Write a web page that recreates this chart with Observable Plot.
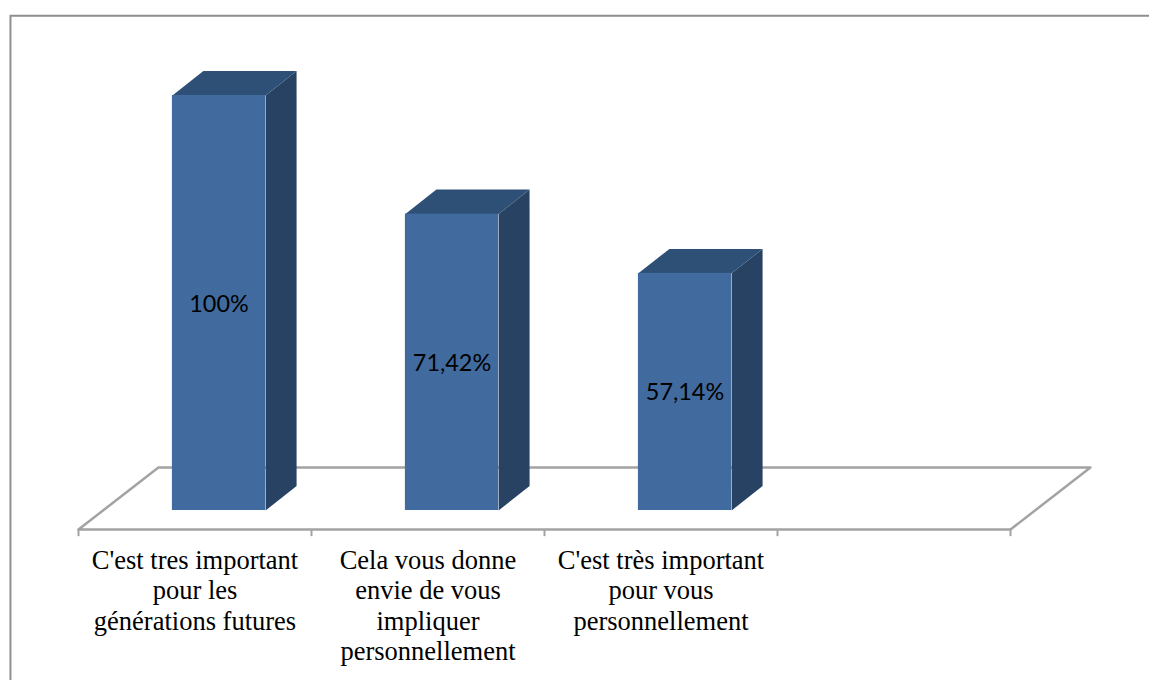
<!DOCTYPE html>
<html>
<head>
<meta charset="utf-8">
<style>html,body{margin:0;padding:0;background:#fff;overflow:hidden}svg{display:block}</style>
<script src="https://cdn.jsdelivr.net/npm/d3@7"></script>
<script src="https://cdn.jsdelivr.net/npm/@observablehq/plot@0.6"></script>
</head>
<body>
<script>
const categories = ["C'est tres important\npour les\ngénérations futures", "Cela vous donne\nenvie de vous\nimpliquer\npersonnellement", "C'est très important\npour vous\npersonnellement"];
const values = [100, 71.42, 57.14];
const valueLabels = ["100%", "71,42%", "57,14%"];
const slots = [0, 1, 2];
const tickPositions = [0, 1, 2, 3, 4];

// 3D projection of the chart, in scale units
const barStart = 0.403, barWidth = 0.4;
const depthX = 0.133, depthY = 5.9;
const floorFront = -4.58, floorBack = 10.36, floorShift = 0.343;
const tickBottom = -6.3;
const frame = {left: -0.292, top: 119.2, right: 4.7, bottom: -45};

const bars = values.map((v, i) => ({i, v, x1: slots[i] + barStart, x2: slots[i] + barStart + barWidth}));
const topFaces = bars.flatMap(b => [[b.x1, b.v], [b.x1 + depthX, b.v + depthY], [b.x2 + depthX, b.v + depthY], [b.x2, b.v]].map(([x, y]) => ({id: b.i, x, y})));
const sideFaces = bars.flatMap(b => [[b.x2, 0], [b.x2 + depthX, depthY], [b.x2 + depthX, b.v + depthY], [b.x2, b.v]].map(([x, y]) => ({id: b.i, x, y})));
const floorEdges = [[0, floorFront], [floorShift, floorBack], [4 + floorShift, floorBack], [4, floorFront], [0, floorFront]].map(([x, y]) => ({x, y}));
const frameLine = [[frame.left, frame.bottom], [frame.left, frame.top], [frame.right, frame.top]].map(([x, y]) => ({x, y}));

const chart = Plot.plot({
  width: 1149, height: 680,
  marginTop: 0, marginRight: 0, marginBottom: 0, marginLeft: 0,
  x: {domain: [0, 4], range: [78, 1010], axis: null},
  y: {domain: [0, 100], range: [510, 95], axis: null},
  marks: [
    Plot.line(frameLine, {x: "x", y: "y", stroke: "#8f8f8f", strokeWidth: 2}),
    Plot.line(floorEdges, {x: "x", y: "y", stroke: "#a3a3a3", strokeWidth: 2.5}),
    Plot.ruleX(tickPositions, {x: d => d, y1: floorFront, y2: tickBottom, stroke: "#a3a3a3", strokeWidth: 2}),
    Plot.line(sideFaces, {x: "x", y: "y", z: "id", fill: "#284263", stroke: null}),
    Plot.line(topFaces, {x: "x", y: "y", z: "id", fill: "#2f5076", stroke: null}),
    Plot.rect(bars, {x1: "x1", x2: "x2", y1: 0, y2: "v", fill: "#416a9e"}),
    Plot.text(bars, {
      x: d => (d.x1 + d.x2) / 2, y: d => d.v / 2,
      text: d => valueLabels[d.i], dy: 1,
      fontFamily: "Lato", fontSize: 23.4, fill: "#000"
    }),
    Plot.text(categories, {
      x: (d, i) => slots[i] + 0.5, y: -8.95,
      text: d => d, lineAnchor: "top", lineHeight: 1.143, textAnchor: "middle",
      fontFamily: "Liberation Serif", fontSize: 26.5, fill: "#000"
    })
  ]
});
document.body.appendChild(chart);
</script>
</body>
</html>
